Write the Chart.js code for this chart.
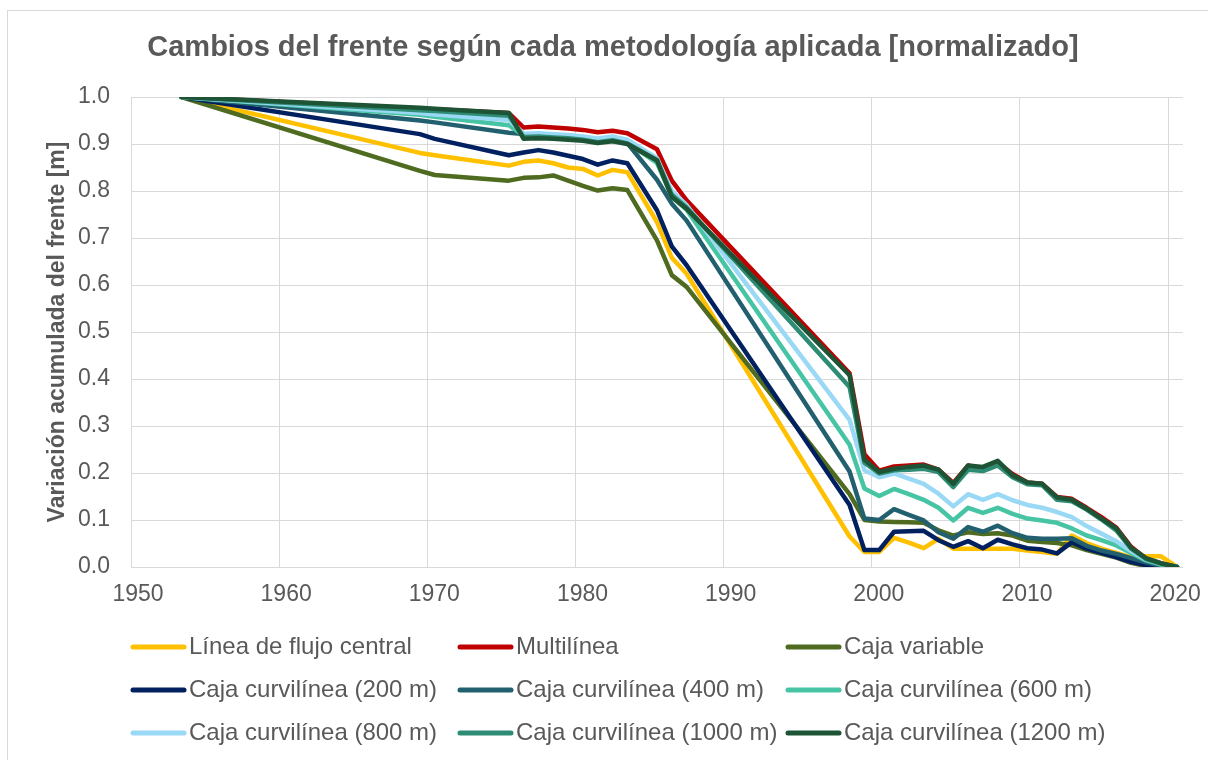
<!DOCTYPE html>
<html>
<head>
<meta charset="utf-8">
<script src="https://cdn.jsdelivr.net/npm/chart.js@4.4.1/dist/chart.umd.min.js"></script>
<style>
html,body{margin:0;padding:0;background:#ffffff;}
#wrap{position:relative;width:1208px;height:760px;overflow:hidden;}
canvas{display:block;}
</style>
</head>
<body>
<div id="wrap"><canvas id="c" width="1208" height="760"></canvas></div>
<script>
// ---- data ----
const years = [1953.4, 1969.5, 1970.5, 1975.5, 1976.5, 1977.5, 1978.5, 1979.5, 1980.5, 1981.5,
  1982.5, 1983.5, 1985.5, 1986.5, 1987.5, 1998.5, 1999.5, 2000.5, 2001.5, 2002.5,
  2003.5, 2004.5, 2005.5, 2006.5, 2007.5, 2008.5, 2009.5, 2010.5, 2011.5, 2012.5,
  2013.5, 2014.5, 2015.5, 2016.5, 2017.5, 2018.5, 2019.5, 2020.6];

const lineaFlujoCentral = [1.0, 0.881, 0.876, 0.854, 0.862, 0.865, 0.859, 0.850, 0.847, 0.833,
  0.845, 0.840, 0.734, 0.658, 0.624, 0.065, 0.032, 0.032, 0.062, 0.052,
  0.040, 0.060, 0.039, 0.039, 0.039, 0.039, 0.039, 0.035, 0.032, 0.028,
  0.067, 0.051, 0.039, 0.030, 0.021, 0.023, 0.023, 0.0];

const multilinea = [1.0, 0.975, 0.974, 0.966, 0.935, 0.937, 0.935, 0.933, 0.930, 0.925,
  0.928, 0.923, 0.889, 0.822, 0.780, 0.412, 0.240, 0.205, 0.214, 0.216,
  0.218, 0.207, 0.179, 0.216, 0.208, 0.222, 0.198, 0.180, 0.177, 0.149,
  0.145, 0.126, 0.106, 0.084, 0.043, 0.018, 0.008, 0.0];

const cajaVariable = [1.0, 0.843, 0.834, 0.822, 0.828, 0.829, 0.833, 0.822, 0.811, 0.801,
  0.806, 0.802, 0.695, 0.621, 0.596, 0.155, 0.100, 0.097, 0.096, 0.095,
  0.094, 0.078, 0.067, 0.074, 0.070, 0.072, 0.067, 0.056, 0.053, 0.051,
  0.046, 0.036, 0.028, 0.020, 0.009, 0.002, 0.0, 0.0];

const curvilinea200 = [1.0, 0.921, 0.911, 0.876, 0.882, 0.887, 0.882, 0.875, 0.868, 0.856,
  0.865, 0.859, 0.759, 0.682, 0.642, 0.132, 0.036, 0.036, 0.075, 0.076,
  0.077, 0.057, 0.043, 0.055, 0.040, 0.058, 0.048, 0.040, 0.037, 0.029,
  0.053, 0.039, 0.030, 0.021, 0.011, 0.004, 0.001, 0.0];

const curvilinea400 = [1.0, 0.950, 0.946, 0.924, 0.921, 0.921, 0.919, 0.917, 0.913, 0.906,
  0.910, 0.902, 0.824, 0.773, 0.737, 0.203, 0.103, 0.100, 0.123, 0.111,
  0.099, 0.074, 0.060, 0.085, 0.075, 0.088, 0.072, 0.062, 0.060, 0.060,
  0.061, 0.045, 0.035, 0.028, 0.019, 0.010, 0.003, 0.0];

const curvilinea600 = [1.0, 0.962, 0.958, 0.940, 0.918, 0.919, 0.917, 0.915, 0.912, 0.907,
  0.911, 0.903, 0.860, 0.788, 0.760, 0.260, 0.167, 0.151, 0.166, 0.155,
  0.143, 0.126, 0.099, 0.126, 0.115, 0.126, 0.113, 0.103, 0.099, 0.094,
  0.082, 0.067, 0.057, 0.046, 0.030, 0.014, 0.005, 0.0];

const curvilinea800 = [1.0, 0.966, 0.963, 0.951, 0.922, 0.923, 0.921, 0.919, 0.916, 0.912,
  0.916, 0.909, 0.870, 0.800, 0.770, 0.313, 0.206, 0.191, 0.199, 0.188,
  0.177, 0.156, 0.129, 0.155, 0.143, 0.155, 0.142, 0.132, 0.126, 0.117,
  0.106, 0.087, 0.071, 0.055, 0.034, 0.016, 0.007, 0.0];

const curvilinea1000 = [1.0, 0.972, 0.970, 0.960, 0.915, 0.916, 0.914, 0.912, 0.909, 0.904,
  0.908, 0.901, 0.866, 0.792, 0.765, 0.383, 0.222, 0.199, 0.206, 0.207,
  0.209, 0.202, 0.170, 0.207, 0.204, 0.216, 0.191, 0.176, 0.174, 0.143,
  0.140, 0.122, 0.101, 0.078, 0.039, 0.017, 0.007, 0.0];

const curvilinea1200 = [1.0, 0.977, 0.975, 0.966, 0.911, 0.912, 0.911, 0.909, 0.907, 0.902,
  0.906, 0.900, 0.865, 0.787, 0.762, 0.408, 0.228, 0.202, 0.209, 0.213,
  0.216, 0.207, 0.177, 0.216, 0.213, 0.226, 0.195, 0.180, 0.177, 0.148,
  0.143, 0.124, 0.103, 0.082, 0.041, 0.019, 0.008, 0.0];

const seriesNames = ["Línea de flujo central", "Multilínea", "Caja variable",
  "Caja curvilínea (200 m)", "Caja curvilínea (400 m)", "Caja curvilínea (600 m)",
  "Caja curvilínea (800 m)", "Caja curvilínea (1000 m)", "Caja curvilínea (1200 m)"];
const seriesValues = [lineaFlujoCentral, multilinea, cajaVariable, curvilinea200, curvilinea400,
  curvilinea600, curvilinea800, curvilinea1000, curvilinea1200];
const seriesColors = ["#FFC000", "#C00000", "#4F6B20", "#002060", "#22606F",
  "#47C4A4", "#9AD9F5", "#2E8B74", "#1D5435"];

const xTickValues = [1950, 1960, 1970, 1980, 1990, 2000, 2010, 2020];
const yTickValues = [0, 0.1, 0.2, 0.3, 0.4, 0.5, 0.6, 0.7, 0.8, 0.9, 1.0];

const chartTitle = "Cambios del frente según cada metodología aplicada [normalizado]";
const yAxisTitle = "Variación acumulada del frente [m]";

// ---- styling ----
const FONT = '"Liberation Sans", Arial, sans-serif';
const TEXT = '#595959';
const GRID = '#d9d9d9';

const datasets = seriesValues.map((vals, i) => ({
  label: seriesNames[i],
  data: vals.map((v, k) => ({x: years[k], y: v})),
  borderColor: seriesColors[i],
  backgroundColor: seriesColors[i],
  borderWidth: 4.5,
  pointRadius: 0,
  pointHoverRadius: 0,
  tension: 0,
  fill: false,
  borderJoinStyle: 'round',
  borderCapStyle: 'round',
  order: seriesValues.length - 1 - i
}));

const decor = {
  id: 'decor',
  afterDraw(chart) {
    const ctx = chart.ctx;
    ctx.save();
    // outer chart border
    ctx.strokeStyle = GRID;
    ctx.lineWidth = 1;
    ctx.strokeRect(7.5, 10.5, 1400, 900);
    // title
    ctx.fillStyle = TEXT;
    ctx.font = 'bold 29px ' + FONT;
    ctx.textAlign = 'center';
    ctx.textBaseline = 'middle';
    ctx.fillText(chartTitle, 613, 48);
    // legend (3 columns)
    const colX = [131, 458, 786];
    const rowY = [647, 690, 733];
    ctx.font = '24px ' + FONT;
    ctx.textAlign = 'left';
    chart.data.datasets.forEach((ds, i) => {
      const x0 = colX[i % 3];
      const y = rowY[Math.floor(i / 3)];
      ctx.strokeStyle = ds.borderColor;
      ctx.lineWidth = 5;
      ctx.lineCap = 'round';
      ctx.beginPath();
      ctx.moveTo(x0 + 2, y);
      ctx.lineTo(x0 + 53, y);
      ctx.stroke();
      ctx.fillStyle = TEXT;
      ctx.fillText(ds.label, x0 + 58, y);
    });
    ctx.restore();
  }
};

new Chart(document.getElementById('c'), {
  type: 'line',
  data: {datasets},
  options: {
    responsive: false,
    animation: false,
    devicePixelRatio: 1,
    layout: {padding: {left: 0, right: 20, top: 97, bottom: 0}},
    plugins: {legend: {display: false}, tooltip: {enabled: false}, title: {display: false}},
    scales: {
      x: {
        type: 'linear',
        min: 1950,
        max: 2021,
        afterBuildTicks: s => { s.ticks = xTickValues.map(v => ({value: v})); },
        afterFit: s => { s.height = 193; },
        grid: {color: GRID, lineWidth: 1, drawTicks: false},
        border: {color: GRID, width: 1},
        ticks: {
          color: TEXT, font: {family: FONT, size: 23}, padding: 14, labelOffset: 7,
          maxRotation: 0, autoSkip: false,
          callback: v => String(v)
        }
      },
      y: {
        type: 'linear',
        min: 0,
        max: 1,
        afterBuildTicks: s => { s.ticks = yTickValues.map(v => ({value: v})); },
        afterFit: s => { s.width = 131; },
        grid: {color: GRID, lineWidth: 1, drawTicks: false},
        border: {color: GRID, width: 1},
        ticks: {
          color: TEXT, font: {family: FONT, size: 23}, padding: 21, autoSkip: false,
          callback: v => Number(v).toFixed(1)
        },
        title: {
          display: true, text: yAxisTitle, color: TEXT,
          font: {family: FONT, size: 23, weight: 'bold'},
          padding: {top: 44, bottom: 0}
        }
      }
    }
  },
  plugins: [decor]
});
</script>
</body>
</html>
